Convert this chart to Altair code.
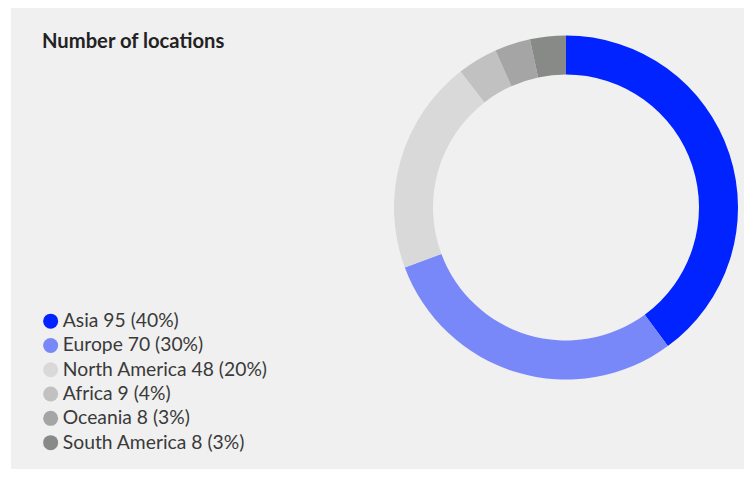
import altair as alt
import pandas as pd

regions = ["Asia", "Europe", "North America", "Africa", "Oceania", "South America"]
counts = [95, 70, 48, 9, 8, 8]
pct_labels = ["40%", "30%", "20%", "4%", "3%", "3%"]
colors = ["#0023ff", "#7888f8", "#d9d9d9", "#c1c1c1", "#a4a5a4", "#888a88"]
title_text = "Number of locations"

labels = [f"{r} {c} ({p})" for r, c, p in zip(regions, counts, pct_labels)]
df = pd.DataFrame({"region": regions, "count": counts, "label": labels,
                   "idx": list(range(len(regions)))})

arc = alt.Chart(df).mark_arc(radius=172, radius2=133).encode(
    theta=alt.Theta("count:Q", stack=True),
    order=alt.Order("idx:Q"),
    color=alt.Color(
        "label:N",
        sort=labels,
        scale=alt.Scale(domain=labels, range=colors),
        legend=alt.Legend(
            title=None,
            orient="none",
            legendX=30,
            legendY=303.5,
            symbolType="circle",
            symbolSize=225,
            symbolStrokeWidth=0,
            labelFontSize=19.3,
            labelFont="Lato",
            labelColor="#3a3a3a",
            labelOffset=2.5,
            labelLimit=0,
            rowPadding=4.3,
            direction="vertical",
        ),
    ),
    x=alt.value(555),
    y=alt.value(199.5),
)

title = alt.Chart(pd.DataFrame({"t": [title_text]})).mark_text(
    align="left", baseline="alphabetic", font="Lato", fontSize=20.2,
    fontWeight="bold", color="#222222"
).encode(text="t:N", x=alt.value(31), y=alt.value(40))

chart = alt.layer(arc, title).properties(
    width=733, height=461,
    padding={"left": 3, "top": 0, "right": 0, "bottom": 0},
    autosize=alt.AutoSizeParams(type="none"),
    background="white",
).configure_view(fill="#f0f0f0", stroke=None)

chart.save("out.html", embed_options={"renderer": "svg", "actions": False})
